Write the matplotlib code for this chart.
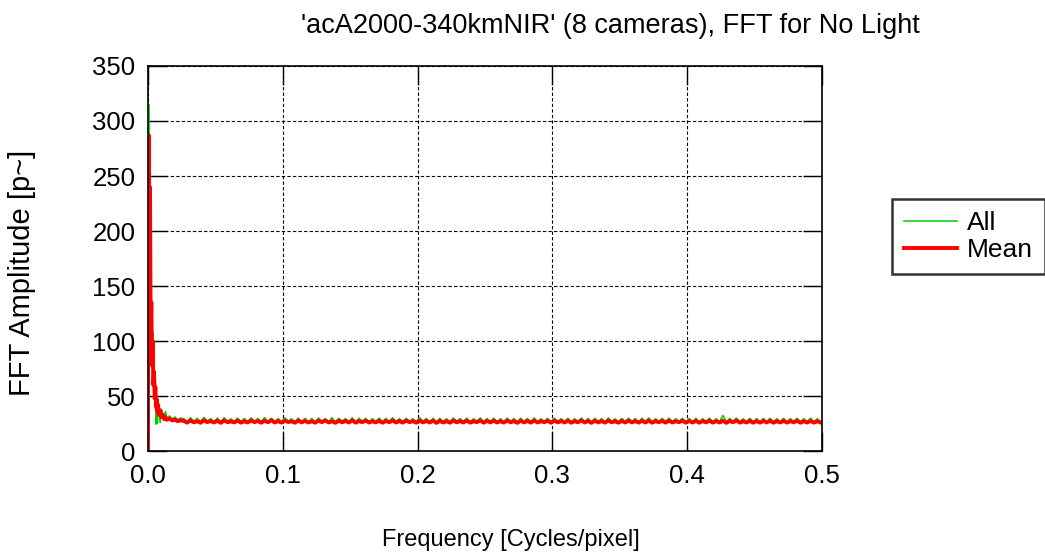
import numpy as np
import matplotlib
matplotlib.use("Agg")
import matplotlib.pyplot as plt

plt.rcParams['font.family'] = ['Liberation Sans', 'DejaVu Sans']

freq_low = [0.0, 0.0005, 0.001, 0.0015, 0.002, 0.0025, 0.003, 0.0035, 0.004, 0.0045,
            0.005, 0.0055, 0.006, 0.0065, 0.007, 0.0075, 0.008, 0.009, 0.010, 0.011,
            0.012, 0.013, 0.014, 0.016, 0.018, 0.020, 0.022, 0.024]
mean_low = [0, 287, 170, 240, 112, 135, 78, 100, 60, 72, 48, 58, 40, 47, 36, 42, 33,
            37, 31, 33, 29, 31, 28.5, 29.5, 27.8, 28.6, 27.2, 28.0]
all_low = [0, 315, 190, 260, 138, 140, 90, 108, 66, 80, 52, 64, 24.5, 50, 25, 45, 40,
           26, 38, 34, 30, 36, 29.5, 32, 29, 31, 28.5, 30]

# flat part, one value every 0.0025
freq_flat = np.arange(0.0265, 0.5001, 0.0025)
mean_flat = [
    27.4, 25.9, 27.8, 26.2, 27.1, 25.8, 28.0, 26.4, 27.3, 26.0, 27.6, 25.7, 27.9, 26.3, 27.0, 26.1, 27.7, 25.9, 27.2,
    26.0, 27.9, 26.3, 27.4, 25.8, 27.6, 26.2, 28.1, 26.0, 27.3, 25.9, 27.7, 26.4, 27.1, 25.8, 27.8, 26.1, 27.5, 26.0,
    27.2, 25.8, 27.7, 26.3, 27.9, 26.0, 27.2, 25.7, 27.6, 26.2, 27.4, 26.0, 27.9, 25.9, 27.3, 26.3, 27.8, 26.0, 27.1,
    26.1, 27.6, 25.8, 27.4, 26.2, 27.9, 26.0, 27.3, 25.9, 27.7, 26.3, 27.2, 25.8, 27.8, 26.1, 27.4, 26.0, 27.6, 25.7,
    27.5, 26.0, 27.2, 25.8, 27.8, 26.2, 27.3, 26.0, 27.7, 25.9, 27.1, 26.3, 27.9, 25.8, 27.4, 26.1, 27.6, 26.0, 27.2,
    25.9, 27.8, 26.2, 27.3, 25.7, 27.6, 26.1, 27.4, 25.9, 27.8, 26.0, 27.2, 26.3, 27.5, 25.8, 27.7, 26.1, 27.3, 26.0,
    27.6, 25.8, 27.2, 26.2, 27.9, 26.0, 27.4, 25.7, 27.6, 26.1, 27.3, 25.9, 27.8, 26.2, 27.1, 25.8, 27.5, 26.0, 27.7,
    26.1, 27.3, 25.9, 27.6, 26.0, 27.8, 25.8, 27.2, 26.2, 27.5, 25.9, 27.7, 26.0, 27.1, 26.3, 27.6, 25.8, 27.4, 26.0,
    27.5, 25.8, 27.3, 26.1, 27.7, 25.9, 27.2, 26.0, 27.6, 25.7, 27.4, 26.2, 27.8, 25.9, 27.1, 26.0, 27.5, 25.8, 27.3,
    25.9, 27.4, 26.1, 27.6, 25.8, 27.2, 26.0, 27.5, 25.9, 27.3, 26.1, 27.6, 25.8, 27.2, 26.0, 27.4, 25.9, 27.1, 26.0,
]
all_flat = [
    29.6, 26.4, 30.4, 27.0, 29.8, 26.8, 30.6, 27.2, 29.5, 26.6, 30.1, 26.5, 30.3, 27.1, 29.4, 26.9, 30.0, 26.7, 29.7,
    26.8, 30.2, 27.0, 29.6, 26.5, 30.5, 26.9, 29.9, 26.7, 29.5, 26.6, 30.3, 27.1, 29.4, 26.5, 30.0, 26.8, 29.8, 26.6,
    29.7, 26.5, 30.1, 26.9, 29.5, 26.7, 30.4, 26.4, 29.8, 26.9, 29.6, 26.6, 30.2, 26.5, 29.9, 27.0, 29.7, 26.6, 29.5,
    26.8, 30.0, 26.6, 29.8, 26.9, 30.3, 26.7, 29.6, 26.5, 29.9, 27.0, 29.5, 26.6, 30.6, 26.8, 29.7, 26.6, 29.9, 26.4,
    29.8, 26.6, 29.5, 26.5, 30.1, 26.9, 29.6, 26.7, 30.0, 26.5, 29.4, 27.0, 30.2, 26.5, 29.7, 26.8, 29.9, 26.7, 29.5,
    26.5, 30.0, 26.9, 29.6, 26.4, 29.9, 26.8, 29.7, 26.6, 30.2, 26.7, 29.5, 27.0, 29.8, 26.5, 30.0, 26.8, 29.6, 26.7,
    29.9, 26.5, 29.5, 26.9, 30.1, 26.7, 29.7, 26.4, 29.9, 26.8, 29.6, 26.6, 30.1, 26.9, 29.4, 26.5, 29.8, 26.7, 30.0,
    26.8, 29.6, 26.6, 29.9, 26.7, 30.2, 26.5, 29.5, 26.9, 29.8, 26.6, 30.0, 26.7, 29.4, 27.0, 29.9, 26.5, 29.7, 26.7,
    29.8, 26.5, 29.6, 26.8, 30.0, 26.6, 29.5, 26.7, 32.5, 26.4, 29.7, 26.9, 30.1, 26.6, 29.4, 26.7, 29.8, 26.5, 29.6,
    26.6, 29.7, 26.8, 29.9, 26.5, 29.5, 26.7, 29.8, 26.6, 29.6, 26.8, 29.9, 26.5, 29.5, 26.7, 30.0, 26.6, 29.4, 26.7,
]

freq = np.concatenate([freq_low, freq_flat])
mean_amp = np.concatenate([mean_low, mean_flat])
all_amp = np.concatenate([all_low, all_flat])

fig = plt.figure(figsize=(10.45, 5.59), dpi=100)
ax = fig.add_axes([0.1416, 0.193, 0.645, 0.689])

ax.plot(freq, all_amp, color='#00cc00', lw=1.1, label='All')
ax.plot(freq, mean_amp, color='red', lw=2.8, label='Mean')

ax.set_xlim(0, 0.5)
ax.set_ylim(0, 350)
ax.set_xticks([0, 0.1, 0.2, 0.3, 0.4, 0.5])
ax.set_xticklabels(['0.0', '0.1', '0.2', '0.3', '0.4', '0.5'])
ax.set_yticks(range(0, 351, 50))
ax.tick_params(direction='in', length=14, width=1.0, labelsize=18.5, top=True, right=True, pad=9)
ax.grid(True, color='black', linestyle=(0, (3, 2)), linewidth=0.8)
for s in ax.spines.values():
    s.set_linewidth(1.2)

fig.text(0.584, 0.953, "'acA2000-340kmNIR' (8 cameras), FFT for No Light", ha='center', va='center', fontsize=19.5)
fig.text(0.489, 0.034, 'Frequency [Cycles/pixel]', ha='center', va='center', fontsize=17)
fig.text(0.021, 0.512, 'FFT Amplitude [p~]', ha='center', va='center', rotation=90, fontsize=21)

leg = ax.legend(loc='center left', bbox_to_anchor=(0.8536, 0.577), bbox_transform=fig.transFigure,
                fontsize=19, frameon=True, fancybox=False, edgecolor='black', handlelength=2.0,
                borderpad=0.45, labelspacing=0.1, handletextpad=0.4, borderaxespad=0)
leg.get_frame().set_linewidth(1.8)

fig.savefig('out.png', dpi=100)
